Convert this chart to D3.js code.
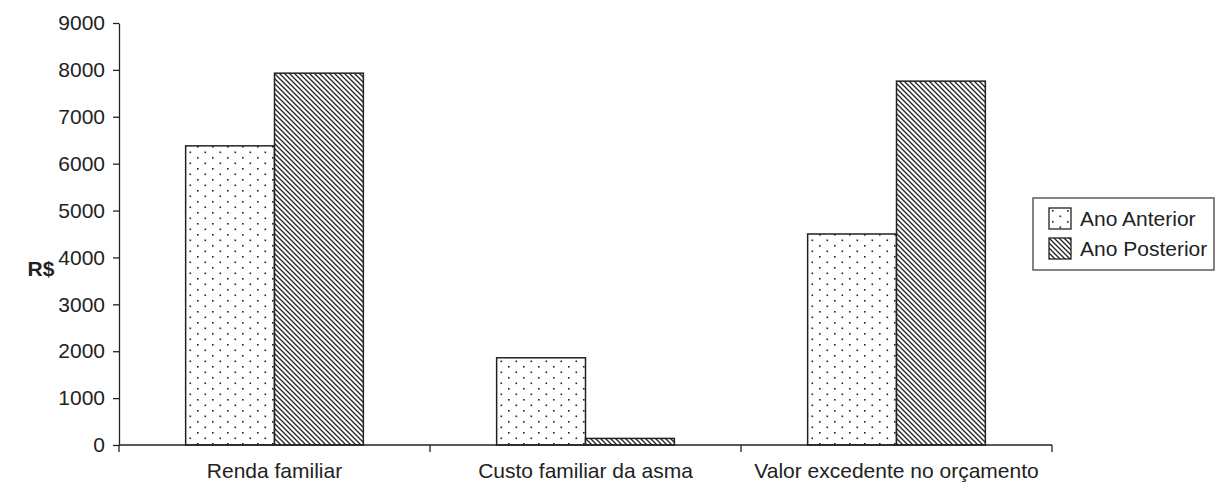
<!DOCTYPE html>
<html>
<head>
<meta charset="utf-8">
<script src="https://cdn.jsdelivr.net/npm/d3@7"></script>
<style>
  body { margin: 0; background: #fff; }
  svg { display: block; font-family: "Liberation Sans", Arial, sans-serif; }
</style>
</head>
<body>
<svg id="chart"></svg>
<script>
const categories = ['Renda familiar', 'Custo familiar da asma', 'Valor excedente no orçamento'];
const seriesNames = ['Ano Anterior', 'Ano Posterior'];
const anoAnterior = [6380, 1860, 4500];
const anoPosterior = [7930, 140, 7760];
const yTicks = [0, 1000, 2000, 3000, 4000, 5000, 6000, 7000, 8000, 9000];

const width = 1216, height = 484;
const margin = {top: 23, right: 164, bottom: 39, left: 119};
const ink = '#222';

const svg = d3.select('#chart').attr('width', width).attr('height', height);

// patterns
const defs = svg.append('defs');
const dots = defs.append('pattern')
    .attr('id', 'dots').attr('patternUnits', 'userSpaceOnUse')
    .attr('width', 15).attr('height', 11);
dots.append('rect').attr('width', 15).attr('height', 11).attr('fill', '#fff');
dots.append('rect').attr('x', 3).attr('y', 2).attr('width', 1.6).attr('height', 1.6).attr('fill', '#222');
dots.append('rect').attr('x', 10.5).attr('y', 7.5).attr('width', 1.6).attr('height', 1.6).attr('fill', '#222');

const hatch = defs.append('pattern')
    .attr('id', 'hatch').attr('patternUnits', 'userSpaceOnUse')
    .attr('width', 5).attr('height', 5);
hatch.append('rect').attr('width', 5).attr('height', 5).attr('fill', '#fff');
hatch.append('path').attr('d', 'M-1,-1 L6,6 M-1,4 L1,6 M4,-1 L6,1')
    .attr('stroke', '#222').attr('stroke-width', 1.3);

const fills = ['url(#dots)', 'url(#hatch)'];

const innerW = width - margin.left - margin.right;
const innerH = height - margin.top - margin.bottom;

const chart = svg.append('g')
    .attr('transform', `translate(${margin.left}, ${margin.top})`);

const x = d3.scaleBand().domain(categories).range([0, innerW]).paddingInner(0).paddingOuter(0);
const xs = d3.scaleBand().domain(seriesNames).range([0, x.bandwidth()]).paddingInner(0).paddingOuter(0.75);
const y = d3.scaleLinear().domain([0, 9000]).range([innerH, 0]);

const rows = categories.map((c, i) => ({cat: c, vals: [anoAnterior[i], anoPosterior[i]]}));

// bars
const groups = chart.selectAll('g.grp')
    .data(rows)
    .join('g')
    .attr('class', 'grp')
    .attr('transform', d => `translate(${x(d.cat)},0)`);

groups.selectAll('rect')
    .data(d => d.vals.map((v, j) => ({name: seriesNames[j], v: v, j: j})))
    .join('rect')
    .attr('x', d => xs(d.name))
    .attr('y', d => y(d.v))
    .attr('width', xs.bandwidth())
    .attr('height', d => innerH - y(d.v))
    .attr('fill', d => fills[d.j])
    .attr('stroke', ink)
    .attr('stroke-width', 1.5);

// y axis
const yAxis = chart.append('g')
    .call(d3.axisLeft(y).tickValues(yTicks).tickFormat(d3.format('d'))
        .tickSize(6).tickSizeOuter(0).tickPadding(8));
yAxis.selectAll('path, line').attr('stroke', ink).attr('stroke-width', 1.3);
yAxis.selectAll('text').attr('font-size', 21).attr('fill', ink)
    .attr('font-family', '"Liberation Sans", Arial, sans-serif');

// x axis
const xAxis = chart.append('g').attr('transform', `translate(0, ${innerH})`);
xAxis.append('line').attr('x1', 0).attr('x2', innerW)
    .attr('stroke', ink).attr('stroke-width', 1.5);
const bounds = categories.map(c => x(c)).concat([innerW]);
xAxis.selectAll('line.tk')
    .data(bounds)
    .join('line')
    .attr('class', 'tk')
    .attr('x1', d => d).attr('x2', d => d)
    .attr('y1', 0).attr('y2', 7)
    .attr('stroke', ink).attr('stroke-width', 1.3);
xAxis.selectAll('text')
    .data(categories)
    .join('text')
    .attr('x', d => x(d) + x.bandwidth() / 2)
    .attr('y', 33)
    .attr('text-anchor', 'middle')
    .attr('font-size', 21)
    .attr('fill', ink)
    .text(d => d);

// y label
svg.append('text')
    .attr('x', 41).attr('y', 276)
    .attr('text-anchor', 'middle')
    .attr('font-size', 21).attr('font-weight', 'bold')
    .attr('fill', ink)
    .text('R$');

// legend
const legend = svg.append('g').attr('transform', 'translate(1033, 198)');
legend.append('rect')
    .attr('width', 181).attr('height', 72)
    .attr('fill', '#fff').attr('stroke', '#444').attr('stroke-width', 1.3);
const items = legend.selectAll('g.item')
    .data(seriesNames)
    .join('g')
    .attr('class', 'item')
    .attr('transform', (d, i) => `translate(16, ${10 + i * 30})`);
items.append('rect')
    .attr('width', 22).attr('height', 21)
    .attr('fill', (d, i) => fills[i])
    .attr('stroke', ink).attr('stroke-width', 1.3);
items.append('text')
    .attr('x', 31).attr('y', 18)
    .attr('font-size', 21).attr('fill', ink)
    .text(d => d);
</script>
</body>
</html>
